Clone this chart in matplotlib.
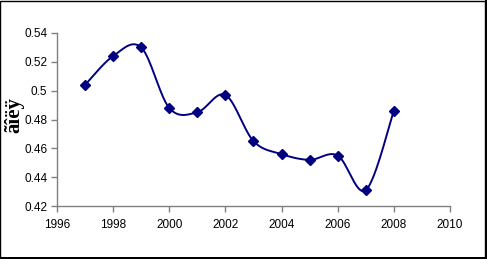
import numpy as np
import matplotlib
matplotlib.use("Agg")
import matplotlib.pyplot as plt
from matplotlib.patches import Rectangle
from matplotlib.ticker import FuncFormatter

years = [1997, 1998, 1999, 2000, 2001, 2002, 2003, 2004, 2005, 2006, 2007, 2008]
values = [0.504, 0.524, 0.530, 0.488, 0.485, 0.497, 0.465, 0.456, 0.452, 0.455, 0.431, 0.486]
ylabel = "ãîëÿ"
color = "#000080"


def smooth(xs, ys, n=30):
    # Catmull-Rom style bezier smoothing (like spreadsheet "smoothed line")
    xs = np.asarray(xs, float)
    ys = np.asarray(ys, float)
    px = np.concatenate([[xs[0]], xs, [xs[-1]]])
    py = np.concatenate([[ys[0]], ys, [ys[-1]]])
    ox, oy = [], []
    for i in range(1, len(px) - 2):
        p0 = np.array([px[i - 1], py[i - 1]])
        p1 = np.array([px[i], py[i]])
        p2 = np.array([px[i + 1], py[i + 1]])
        p3 = np.array([px[i + 2], py[i + 2]])
        c1 = p1 + (p2 - p0) / 6.0
        c2 = p2 - (p3 - p1) / 6.0
        t = np.linspace(0, 1, n)[:, None]
        b = ((1 - t) ** 3) * p1 + 3 * ((1 - t) ** 2) * t * c1 + 3 * (1 - t) * t ** 2 * c2 + t ** 3 * p2
        ox.extend(b[:, 0])
        oy.extend(b[:, 1])
    return ox, oy


fig = plt.figure(figsize=(4.87, 2.59), dpi=100)
fig.patch.set_facecolor("white")
ax = fig.add_axes([0.117, 0.2046, 0.807, 0.668])

sx, sy = smooth(years, values)
ax.plot(sx, sy, color=color, lw=1.4, zorder=2)
ax.plot(years, values, ls="none", marker="D", ms=5.2, color=color, mec=color, zorder=3)

ax.set_xlim(1996, 2010)
ax.set_ylim(0.42, 0.54)
ax.set_xticks(np.arange(1996, 2011, 2))
ax.set_yticks(np.arange(0.42, 0.5401, 0.02))
ax.yaxis.set_major_formatter(FuncFormatter(lambda v, p: f"{v:.2f}".rstrip("0") if round(v, 2) != 0.5 else "0.5"))
for s in ["top", "right"]:
    ax.spines[s].set_visible(False)
for s in ["left", "bottom"]:
    ax.spines[s].set_color("#808080")
    ax.spines[s].set_linewidth(1.0)
ax.tick_params(direction="out", length=4, width=1, color="#808080",
               labelsize=8.5, labelcolor="black")
for lab in ax.get_xticklabels() + ax.get_yticklabels():
    lab.set_fontfamily("Liberation Sans")
ax.tick_params(axis="x", pad=5)
ax.tick_params(axis="y", pad=3)

fig.text(0.008, 0.557, ylabel, rotation=90, ha="left", va="center",
         fontfamily="Liberation Serif", fontweight="bold", fontsize=15)

fig.patches.append(Rectangle((0.001, 0.004), 0.994, 0.994, transform=fig.transFigure,
                             fill=False, ec="black", lw=1.0))
fig.patches.append(Rectangle((0.996, 0.0), 0.004, 1.0, transform=fig.transFigure,
                             fc="black", ec="none"))
fig.patches.append(Rectangle((0.0, 0.0), 1.0, 0.008, transform=fig.transFigure,
                             fc="black", ec="none"))

fig.savefig("out.png", dpi=100)
